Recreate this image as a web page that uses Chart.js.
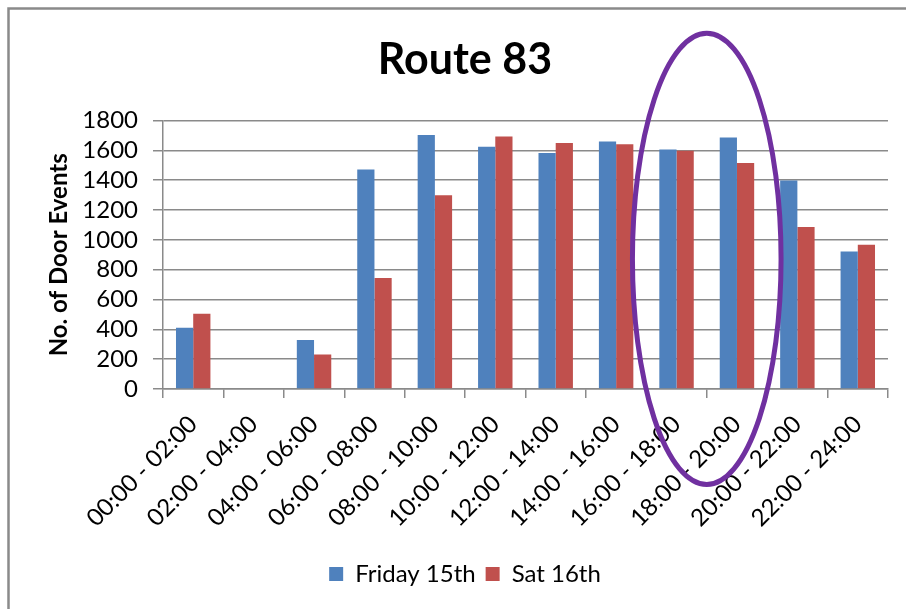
<!DOCTYPE html>
<html>
<head>
<meta charset="utf-8">
<script src="https://cdn.jsdelivr.net/npm/chart.js@4/dist/chart.umd.min.js"></script>
<style>
  html, body { margin: 0; padding: 0; background: #fff; }
  #wrap { width: 906px; height: 609px; position: relative; }
</style>
</head>
<body>
<div id="wrap"><canvas id="chart-route83"></canvas></div>
<script>
// ── Data ──────────────────────────────────────────────────────────────────────
const timeSlots = [
  '00:00 - 02:00', '02:00 - 04:00', '04:00 - 06:00', '06:00 - 08:00',
  '08:00 - 10:00', '10:00 - 12:00', '12:00 - 14:00', '14:00 - 16:00',
  '16:00 - 18:00', '18:00 - 20:00', '20:00 - 22:00', '22:00 - 24:00',
];
const friday15 = [410, 0, 328, 1472, 1703, 1625, 1583, 1660, 1607, 1686, 1398, 922];
const sat16    = [505, 0, 231, 745, 1300, 1693, 1649, 1642, 1598, 1516, 1087, 967];
const yTicks   = { min: 0, max: 1800, step: 200 };

// highlighted slots (16:00 - 18:00 and 18:00 - 20:00)
const highlightFrom = 8;
const highlightTo = 9;

// ── Styles ────────────────────────────────────────────────────────────────────
const FONT = "Lato, 'Open Sans', sans-serif";
const AXIS_GRAY = '#8a8a8a';
const BLUE = '#4f81bd';
const RED = '#c0504d';
const PURPLE = '#7030a0';

// Frame round the chart (Excel-style, clipped at right/bottom)
const framePlugin = {
  id: 'frame',
  beforeDraw(chart) {
    const { ctx } = chart;
    ctx.save();
    ctx.strokeStyle = AXIS_GRAY;
    ctx.lineWidth = 2.5;
    ctx.beginPath();
    ctx.moveTo(8.5, chart.height);
    ctx.lineTo(8.5, 8.5);
    ctx.lineTo(chart.width, 8.5);
    ctx.stroke();
    ctx.restore();
  },
};

// Purple ellipse round the highlighted slots
const ellipsePlugin = {
  id: 'highlightEllipse',
  afterDraw(chart) {
    const { ctx } = chart;
    const x = chart.scales.x;
    const y = chart.scales.y;
    const a = x.getPixelForValue(highlightFrom);
    const b = x.getPixelForValue(highlightTo);
    const cx = (a + b) / 2;
    const rx = (b - a) * 1.23;
    const top = y.getPixelForValue(2385);
    const bottom = y.getPixelForValue(-640);
    ctx.save();
    ctx.strokeStyle = PURPLE;
    ctx.lineWidth = 5;
    ctx.beginPath();
    ctx.ellipse(cx, (top + bottom) / 2, rx, (bottom - top) / 2, 0, 0, Math.PI * 2);
    ctx.stroke();
    ctx.restore();
  },
};

const datasets = [
  {
    label: 'Friday 15th',
    data: friday15,
    backgroundColor: BLUE,
    borderWidth: 0,
  },
  {
    label: 'Sat 16th',
    data: sat16,
    backgroundColor: RED,
    borderWidth: 0,
  },
];

new Chart(document.getElementById('chart-route83').getContext('2d'), {
  type: 'bar',
  data: { labels: timeSlots, datasets },
  options: {
    responsive: true,
    maintainAspectRatio: false,
    animation: false,
    devicePixelRatio: 1,
    layout: { padding: { left: 42, right: 18, top: 0, bottom: 13 } },
    datasets: { bar: { categoryPercentage: 0.57, barPercentage: 1.0 } },
    plugins: {
      title: {
        display: true,
        text: 'Route 83',
        color: '#000',
        font: { family: FONT, size: 43, weight: 'bold' },
        padding: { top: 34, bottom: 35 },
      },
      legend: {
        display: true,
        position: 'bottom',
        labels: {
          color: '#000',
          font: { family: FONT, size: 24 },
          boxWidth: 14,
          boxHeight: 14,
          padding: 10,
        },
      },
      tooltip: { enabled: false },
    },
    scales: {
      x: {
        afterFit: (s) => { s.height = 163; },
        grid: {
          display: true,
          drawOnChartArea: false,
          drawTicks: true,
          tickLength: 9,
          color: AXIS_GRAY,
          lineWidth: 1.5,
          offset: true,
        },
        border: { display: true, color: AXIS_GRAY, width: 1.5 },
        ticks: {
          color: '#000',
          font: { family: FONT, size: 24 },
          minRotation: 45,
          maxRotation: 45,
          autoSkip: false,
          padding: 12,
        },
      },
      y: {
        min: yTicks.min,
        max: yTicks.max,
        afterFit: (s) => { s.width = 121; },
        grid: { color: AXIS_GRAY, lineWidth: 1.5, tickLength: 10 },
        border: { display: true, color: AXIS_GRAY, width: 1.5 },
        ticks: {
          stepSize: yTicks.step,
          autoSkip: false,
          color: '#000',
          font: { family: FONT, size: 24 },
          padding: 15,
          callback: (v) => String(v),
        },
        title: {
          display: true,
          text: 'No. of Door Events',
          color: '#000',
          font: { family: FONT, size: 24, weight: 'bold' },
          padding: { top: 3, bottom: 0 },
        },
      },
    },
  },
  plugins: [framePlugin, ellipsePlugin],
});
</script>
</body>
</html>
